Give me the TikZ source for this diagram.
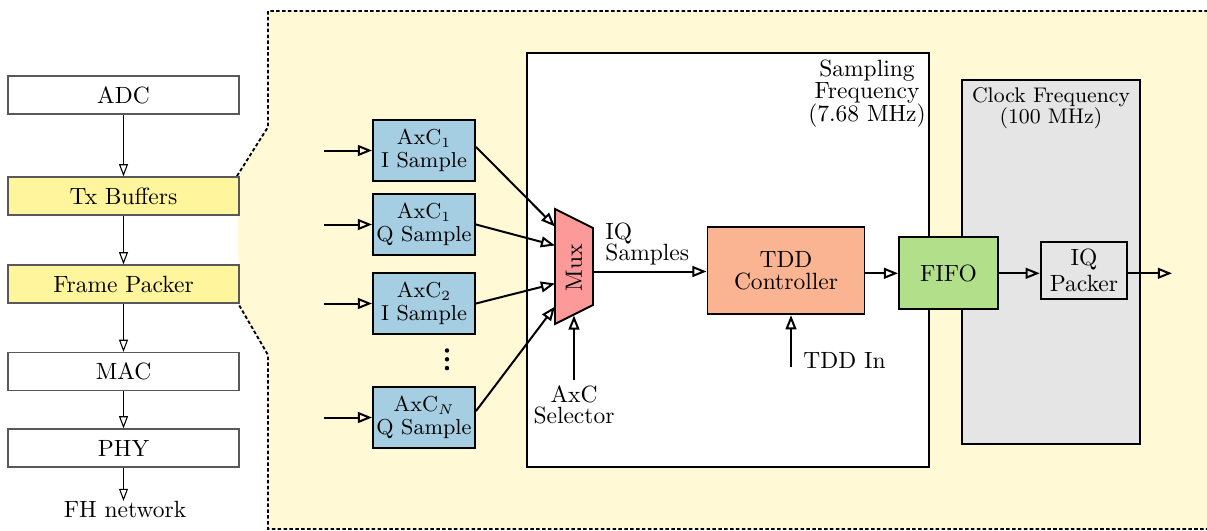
\documentclass[tikz,border=0pt]{standalone}
\usetikzlibrary{arrows.meta,calc}
\definecolor{bgy}{RGB}{255,250,213}
\definecolor{ly}{RGB}{255,245,157}
\definecolor{axcc}{RGB}{166,206,227}
\definecolor{muxc}{RGB}{251,154,153}
\definecolor{tddc}{RGB}{250,180,145}
\definecolor{fifoc}{RGB}{178,223,138}
\definecolor{grc}{RGB}{229,229,229}
\begin{document}
\begin{tikzpicture}[x=0.4255pt,y=-0.4255pt,
  lbox/.style={draw=black!65, line width=0.5pt, minimum width=231*0.4255pt, minimum height=38*0.4255pt, inner sep=0pt, font=\fontsize{10}{12}\selectfont},
  larr/.style={-{Triangle[open,length=5.2pt,width=3.8pt]}, line width=0.45pt},
  rarr/.style={-{Triangle[open,length=6pt,width=4.6pt]}, line width=0.85pt},
  rbox/.style={draw, line width=0.8pt, inner sep=0pt},
  axc/.style={rbox, fill=axcc, minimum width=102*0.4255pt, minimum height=61*0.4255pt, align=center, font=\fontsize{9.2}{9.5}\selectfont},
  outline/.style={line width=0.8pt, dash pattern=on 1.5pt off 1pt}
]
\useasboundingbox (0,0) rectangle (1207,531);
% background region
\fill[bgy] (237,176) -- (268,127) -- (268,11) -- (1230,11) -- (1230,529) -- (268,529) -- (268,355) -- (239,305) -- cycle;
\draw[outline] (237,176) -- (268,127) -- (268,11) -- (1230,11) -- (1230,529) -- (268,529) -- (268,355) -- (239,305);

% left column
\node[lbox] (adc) at (123.5,95) {ADC};
\node[lbox, fill=ly] (tx) at (123.5,196) {Tx Buffers};
\node[lbox, fill=ly] (fp) at (123.5,284) {Frame Packer};
\node[lbox] (mac) at (123.5,371.5) {MAC};
\node[lbox] (phy) at (123.5,448) {PHY};
\node[anchor=north, inner sep=0pt] (fh) at (125,501) {FH network};
\draw[larr] (adc) -- (tx);
\draw[larr] (tx) -- (fp);
\draw[larr] (fp) -- (mac);
\draw[larr] (mac) -- (phy);
\draw[larr] (phy.south) -- (phy.south |- fh.north);

% clock domains
\node[rbox, fill=white, minimum width=402*0.4255pt, minimum height=414*0.4255pt] (samp) at (728,260) {};
\node[anchor=north, inner sep=0pt, align=center, font=\fontsize{10}{9.6}\selectfont] (samplbl) at (867,59) {Sampling\\Frequency\\(7.68 MHz)};
\node[rbox, fill=grc, minimum width=178*0.4255pt, minimum height=364*0.4255pt] (clk) at (1051,262) {};
\node[anchor=north, inner sep=0pt, align=center, font=\fontsize{9}{8.9}\selectfont] (clklbl) at (1051,87) {Clock Frequency\\(100 MHz)};

% AxC sample boxes
\node[axc] (a1) at (424,150.5) {AxC$_1$\\I Sample};
\node[axc] (a2) at (424,224.5) {AxC$_1$\\Q Sample};
\node[axc] (a3) at (424,303.5) {AxC$_2$\\I Sample};
\node[axc] (a4) at (424,417.5) {AxC$_N$\\Q Sample};
\fill (447,350.5) circle[radius=0.95pt];
\fill (447,359.3) circle[radius=0.95pt];
\fill (447,368.1) circle[radius=0.95pt];

\foreach \n in {a1,a2,a3,a4}{
  \coordinate (in-\n) at ($(\n.west)+(-48,0)$);
  \draw[rarr] (in-\n) -- (\n.west);
}

% mux
\draw[line width=0.8pt, fill=muxc] (555,209) -- (593,228) -- (593,305) -- (555,324) -- cycle;
\node[rotate=90, inner sep=0pt] (mux) at (574,268) {Mux};
\coordinate (m1) at (555,226.5);
\coordinate (m2) at (555,245.5);
\coordinate (m3) at (555,283.5);
\coordinate (m4) at (555,306.5);
\coordinate (mo) at (593,271.5);
\coordinate (mb) at (574,315.5);
\draw[rarr] (a1.4) -- (m1);
\draw[rarr] (a2.east) -- (m2);
\draw[rarr] (a3.east) -- (m3);
\draw[rarr] (a4.7) -- (m4);

\node[anchor=north, inner sep=2pt, align=center, font=\fontsize{10}{9}\selectfont] (sel) at (574,380) {AxC\\Selector};
\draw[rarr] (sel.north) -- (mb);

% TDD controller
\node[rbox, fill=tddc, minimum width=157*0.4255pt, minimum height=87*0.4255pt, align=center, font=\fontsize{10}{9.4}\selectfont] (tdd) at (786,270.8) {TDD\\Controller};
\node[anchor=south west, inner sep=0pt, align=left, font=\fontsize{10}{9.3}\selectfont] (iqs) at (605,266) {IQ\\Samples};
\draw[rarr] (mo) -- (mo -| tdd.west);

\coordinate (tddin) at (791,367);
\node[anchor=base west, inner sep=0pt] (tddinlbl) at (803,368.3) {TDD In};
\draw[rarr] (tddin) -- (tddin |- tdd.south);

% FIFO and packer
\node[rbox, fill=fifoc, minimum width=99*0.4255pt, minimum height=72*0.4255pt] (fifo) at (948.5,273.3) {FIFO};
\node[rbox, fill=grc, minimum width=86.6*0.4255pt, minimum height=57*0.4255pt, align=center, font=\fontsize{10}{11.3}\selectfont] (pk) at (1084,270.3) {IQ\\Packer};
\draw[rarr] (fifo.west -| tdd.east) -- (fifo.west);
\draw[rarr] (fifo.east) -- (fifo.east -| pk.west);
\coordinate (out) at (1172,273.3);
\draw[rarr] (out -| pk.east) -- (out);
\end{tikzpicture}
\end{document}
